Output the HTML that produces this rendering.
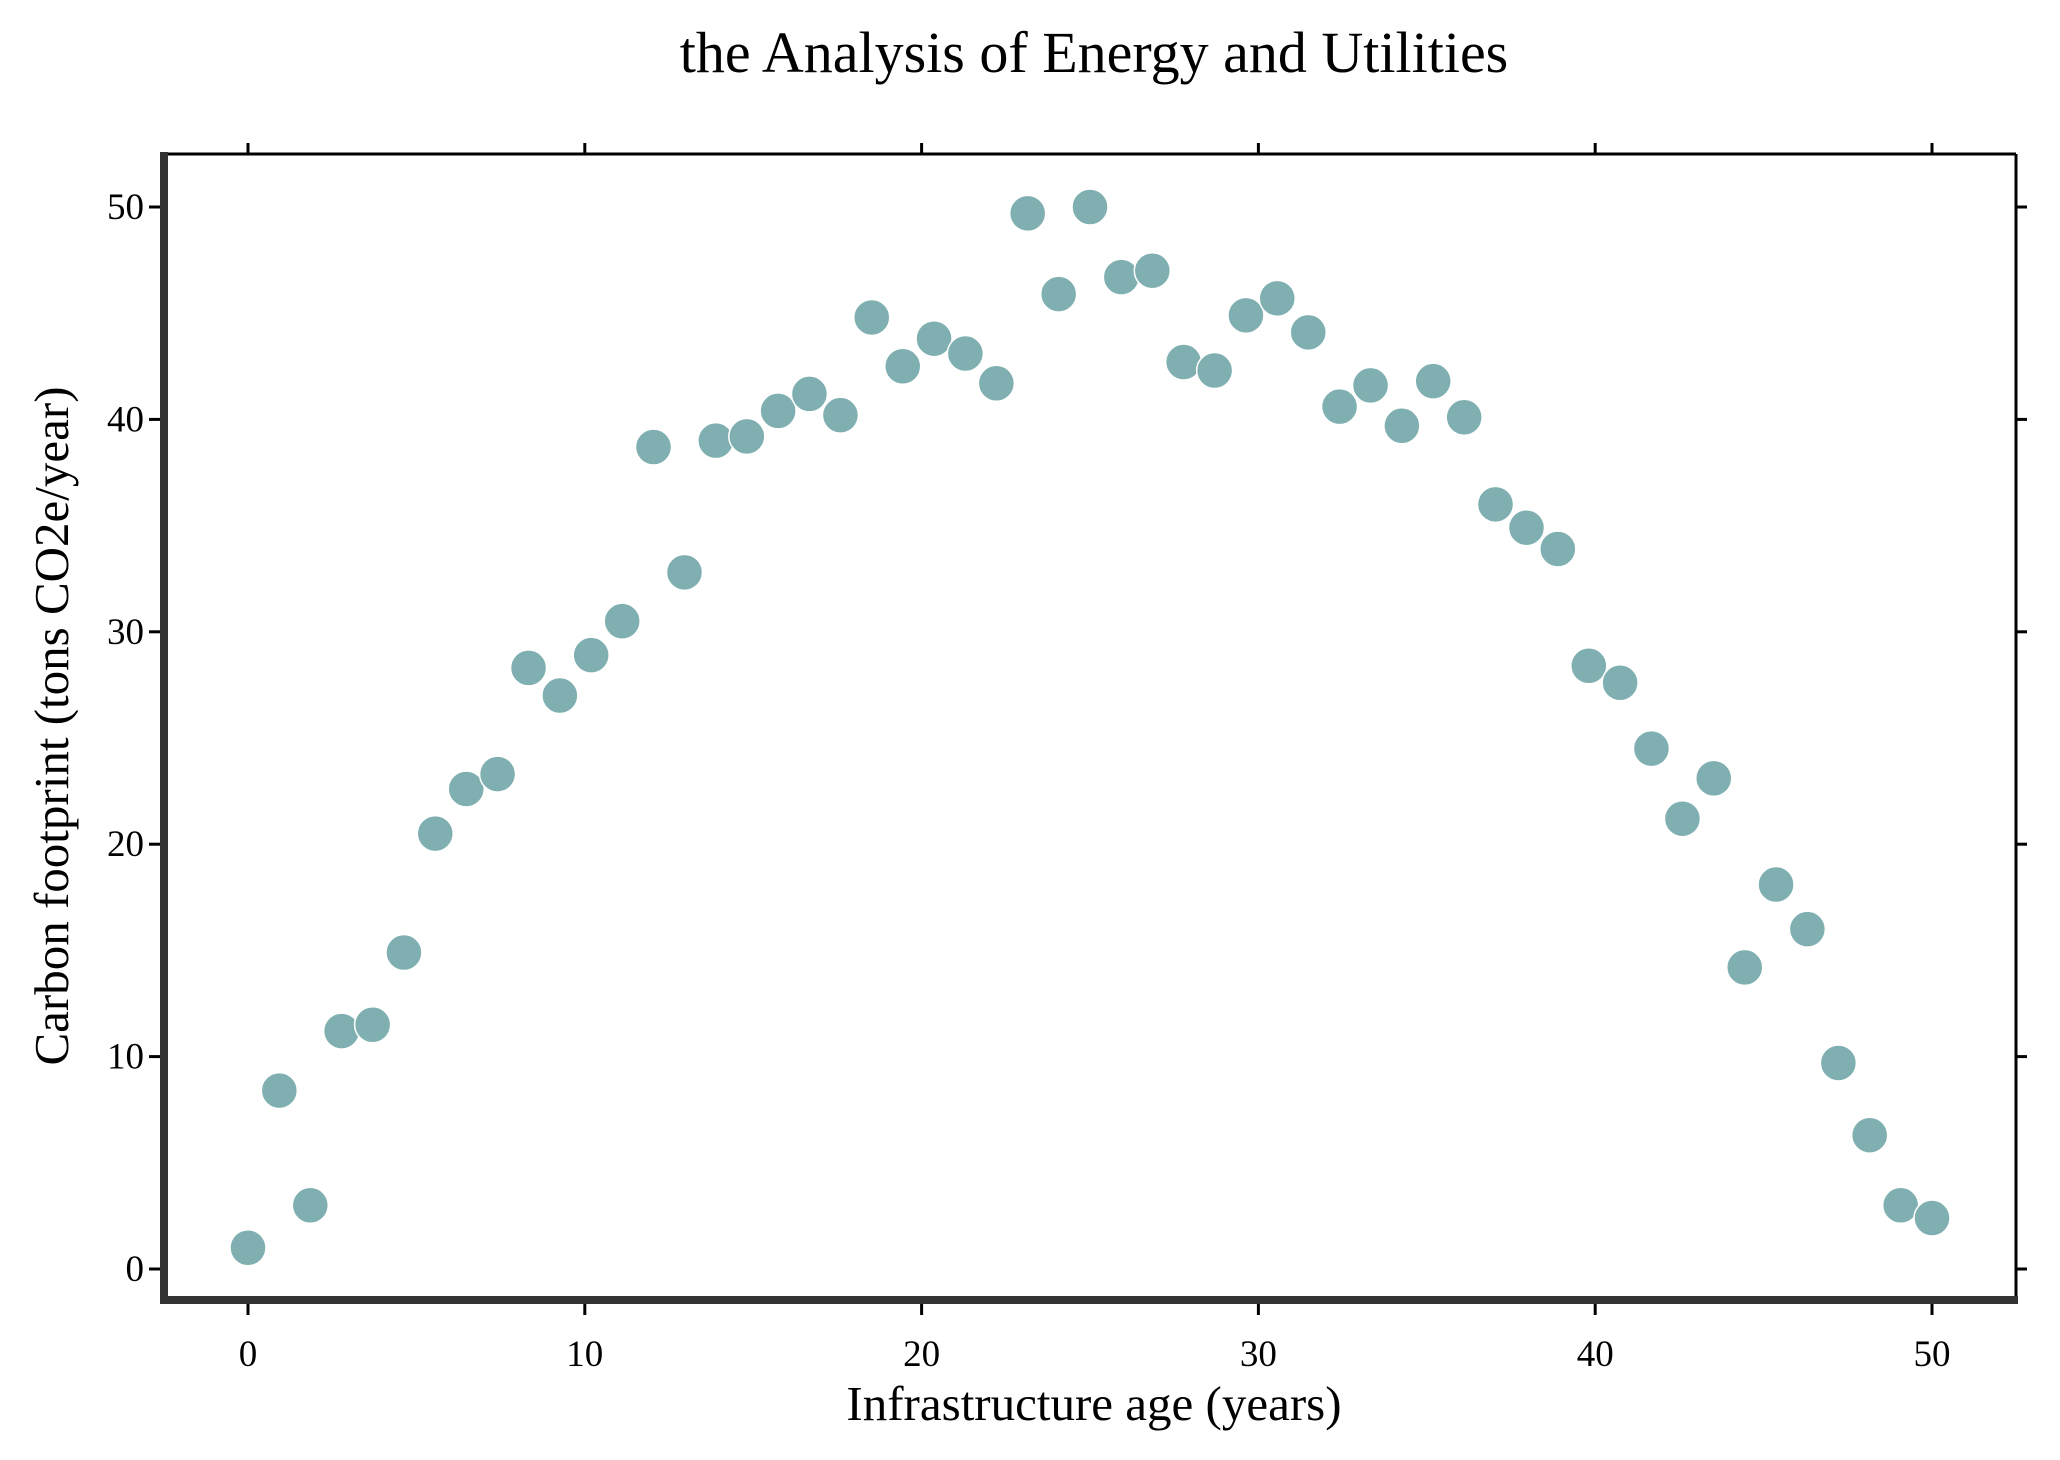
<!DOCTYPE html>
<html><head><meta charset="utf-8"><style>
html,body{margin:0;padding:0;background:#fff;}
svg{display:block;font-family:"Liberation Serif","DejaVu Serif",serif;}
</style></head><body>
<svg id="chart" width="2060" height="1460" viewBox="0 0 2060 1460" xmlns="http://www.w3.org/2000/svg">
<rect width="2060" height="1460" fill="#fff"/>
<text x="1094" y="72" font-size="58" text-anchor="middle">the Analysis of Energy and Utilities</text>
<g id="marks"></g>
<g id="axes"></g>
<text x="1094" y="1420" font-size="49" text-anchor="middle">Infrastructure age (years)</text>
<text transform="translate(68,726) rotate(-90)" font-size="49" text-anchor="middle">Carbon footprint (tons CO2e/year)</text>
</svg>
<script>
const xValues=[0,0.93,1.85,2.78,3.7,4.63,5.56,6.48,7.41,8.33,9.26,10.19,11.11,12.04,12.96,13.89,14.81,15.74,16.67,17.59,18.52,19.44,20.37,21.3,22.22,23.15,24.07,25,25.93,26.85,27.78,28.7,29.63,30.56,31.48,32.41,33.33,34.26,35.19,36.11,37.04,37.96,38.89,39.81,40.74,41.67,42.59,43.52,44.44,45.37,46.3,47.22,48.15,49.07,50];
const yValues=[1.0,8.4,3.0,11.2,11.5,14.9,20.5,22.6,23.3,28.3,27.0,28.9,30.5,38.7,32.8,39.0,39.2,40.4,41.2,40.2,44.8,42.5,43.8,43.1,41.7,49.7,45.9,50.0,46.7,47.0,42.7,42.3,44.9,45.7,44.1,40.6,41.6,39.7,41.8,40.1,36.0,34.9,33.9,28.4,27.6,24.5,21.2,23.1,14.2,18.1,16.0,9.7,6.3,3.0,2.4];
const xTicks=[0,10,20,30,40,50];
const yTicks=[0,10,20,30,40,50];
const NS='http://www.w3.org/2000/svg';
const L=164,R=2016,T=154,B=1300;
function sx(v){return 248+(1932-248)*v/50;}
function sy(v){return 1269-(1269-207)*v/50;}
const marks=document.getElementById('marks');
for(let i=0;i<xValues.length;i++){
  const c=document.createElementNS(NS,'circle');
  c.setAttribute('cx',sx(xValues[i]));c.setAttribute('cy',sy(yValues[i]));
  c.setAttribute('r',18);c.setAttribute('fill','#7fafb0');
  c.setAttribute('stroke','#fff');c.setAttribute('stroke-width','1.5');
  
  
  marks.appendChild(c);
}
const ax=document.getElementById('axes');
function line(x1,y1,x2,y2,w,col,name){
  const l=document.createElementNS(NS,'line');
  l.setAttribute('x1',x1);l.setAttribute('y1',y1);l.setAttribute('x2',x2);l.setAttribute('y2',y2);
  l.setAttribute('stroke',col);l.setAttribute('stroke-width',w);
  
  
  ax.appendChild(l);
}
function text(x,y,s,anchor,name){
  const t=document.createElementNS(NS,'text');
  t.setAttribute('x',x);t.setAttribute('y',y);t.setAttribute('font-size','37');
  t.setAttribute('text-anchor',anchor);t.textContent=s;
  
  
  ax.appendChild(t);
}
line(L,T,R,T,3,'#000','top-spine');
line(R,T,R,B,3,'#000','right-spine');
line(L,T-2,L,B+4,8,'#333','left-spine');
line(L-4,B,R+2,B,8,'#333','bottom-spine');
xTicks.forEach(v=>{
  const x=sx(v);
  line(x,B+4,x,B+15,3,'#000','x-tick');
  line(x,T,x,T-11,3,'#000','x-tick-top');
  text(x,1366,String(v),'middle','x-tick-label');
});
yTicks.forEach(v=>{
  const y=sy(v);
  line(L-4,y,L-15,y,3,'#000','y-tick');
  line(R,y,R+11,y,3,'#000','y-tick-right');
  text(L-20,y+12,String(v),'end','y-tick-label');
});
</script>
</body></html>
